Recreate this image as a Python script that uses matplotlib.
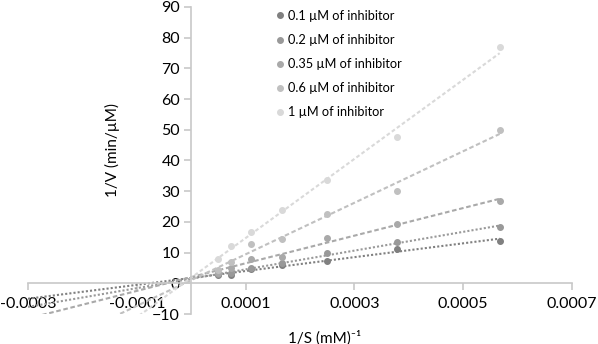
import numpy as np
import matplotlib.pyplot as plt

plt.rcParams['font.family'] = ['Lato', 'DejaVu Sans']

# data
inv_s = [0.00005, 0.000073, 0.00011, 0.000167, 0.00025, 0.000378, 0.000567]
labels = ["0.1 µM of inhibitor", "0.2 µM of inhibitor", "0.35 µM of inhibitor",
          "0.6 µM of inhibitor", "1 µM of inhibitor"]
v01 = [2.6, 2.8, 4.6, 5.8, 7.3, 11.2, 13.9]
v02 = [2.9, 3.2, 5.0, 6.5, 9.8, 13.3, 18.4]
v035 = [3.4, 5.1, 8.0, 8.5, 14.6, 19.4, 26.9]
v06 = [4.3, 6.8, 12.9, 14.5, 22.6, 30.2, 49.9]
v1 = [8.0, 12.0, 16.8, 23.8, 33.5, 47.5, 76.9]

series = [v01, v02, v035, v06, v1]
colors = ["#808080", "#999999", "#a9a9a9", "#c0c0c0", "#d9d9d9"]
styles = [(0, (1.0, 1.0)), (0, (1.0, 1.0)), (0, (2.2, 1.3)), (0, (2.2, 1.3)), (0, (1.8, 1.2))]

fig = plt.figure(figsize=(5.98, 3.44), dpi=100)
ax = fig.add_axes([28/598, 1-314/344, 544/598, 307/344])

x = np.array(inv_s)
for vals, c, ls, lab in zip(series, colors, styles, labels):
    y = np.array(vals)
    m, b = np.polyfit(x, y, 1)
    xt = np.array([-0.0003, x[-1]])
    ax.plot(xt, m*xt + b, color=c, lw=1.5, linestyle=ls,
            dash_capstyle='butt', zorder=2)
    ax.plot(x, y, 'o', color=c, ms=4, label=lab, zorder=3)

ax.set_xlim(-0.0003, 0.0007)
ax.set_ylim(-10, 90)
ax.set_xticks([-0.0003, -0.0001, 0.0001, 0.0003, 0.0005, 0.0007])
ax.set_xticklabels(["-0.0003", "-0.0001", "0.0001", "0.0003", "0.0005", "0.0007"])
ax.set_yticks(range(-10, 91, 10))

ax.spines['left'].set_position(('data', 0))
ax.spines['bottom'].set_position(('data', 0))
ax.spines['right'].set_visible(False)
ax.spines['top'].set_visible(False)
for s in ['left', 'bottom']:
    ax.spines[s].set_color('#c8c8c8')
    ax.spines[s].set_linewidth(1.2)
ax.tick_params(axis='both', direction='out', length=5, width=1.2, color='#c8c8c8',
               labelsize=11.5, labelcolor='black')
ax.tick_params(axis='x', pad=5)
ax.tick_params(axis='y', pad=3)

ax.set_ylabel("1/V (min/µM)", fontsize=11)
ax.yaxis.set_label_coords(0.169, 0.534)
ax.set_xlabel("1/S (mM)⁻¹", fontsize=11)
ax.xaxis.set_label_coords(0.546, -0.052)

ax.legend(loc='upper left', bbox_to_anchor=(268/598, 1-1/344), bbox_transform=fig.transFigure,
          frameon=False, fontsize=9.2, handlelength=0.5, handletextpad=0.4,
          labelspacing=0.95, borderpad=0.2)

fig.savefig("out.png", dpi=100)
